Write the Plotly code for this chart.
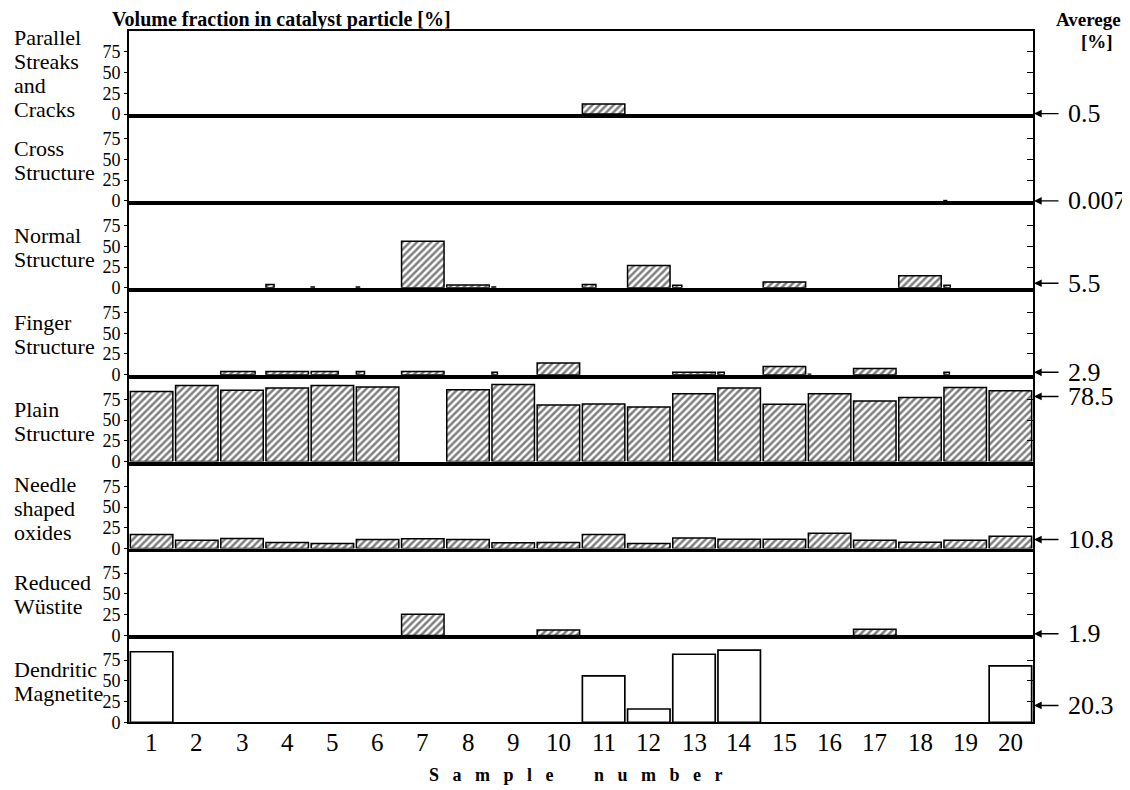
import plotly.graph_objects as go

samples = list(range(1, 21))
sample_tick_labels = [str(s) for s in samples]

panel_labels = [
    "Parallel<br>Streaks<br>and<br>Cracks",
    "Cross<br>Structure",
    "Normal<br>Structure",
    "Finger<br>Structure",
    "Plain<br>Structure",
    "Needle<br>shaped<br>oxides",
    "Reduced<br>Wüstite",
    "Dendritic<br>Magnetite",
]

parallel = [0, 0, 0, 0, 0, 0, 0, 0, 0, 0, 12, 0, 0, 0, 0, 0, 0, 0, 0, 0]
cross = [0, 0, 0, 0, 0, 0, 0, 0, 0, 0, 0, 0, 0, 0, 0, 0, 0, 0, 0.4, 0]
normal = [0, 0, 0, 4, 1, 1, 56, 3.5, 1, 0, 4, 27, 3, 0, 7, 0, 0, 14.5, 3, 0]
finger = [0, 0, 4, 4, 4, 4, 4, 0, 3, 14, 0, 0, 3, 3, 10, 0.5, 7.5, 0, 3, 0]
plain = [84.5, 91.8, 86.1, 88.6, 91.8, 89.8, 0, 86.5, 93, 68.2,
         69.4, 65.7, 81.6, 88.6, 69, 81.6, 73, 77.1, 89.4, 85.3]
needle = [16.8, 10, 12, 7.2, 6, 10.8, 11.6, 10.8, 6.8, 7.2,
          16.8, 6, 12.8, 11.2, 11.2, 18.4, 10, 7.6, 10, 14.8]
wustite = [0, 0, 0, 0, 0, 0, 25.5, 0, 0, 6.5, 0, 0, 0, 0, 0, 0, 7.5, 0, 0, 0]
dendritic = [85, 0, 0, 0, 0, 0, 0, 0, 0, 0, 56, 16, 82, 87, 0, 0, 0, 0, 0, 68]

series = [parallel, cross, normal, finger, plain, needle, wustite, dendritic]
averages = [0.5, 0.007, 5.5, 2.9, 78.5, 10.8, 1.9, 20.3]
average_labels = ["0.5", "0.007", "5.5", "2.9", "78.5", "10.8", "1.9", "20.3"]
ytick_values = [0, 25, 50, 75]

# ---- style: bar widths (fraction of slot), left aligned in slot ----
FULL = 0.94
def widths_with(overrides):
    w = [FULL] * 20
    for k, v in overrides.items():
        w[k - 1] = v
    return w

bar_widths = [
    widths_with({}),
    widths_with({19: 0.06}),
    widths_with({4: 0.18, 5: 0.07, 6: 0.07, 9: 0.08, 11: 0.3, 13: 0.2, 19: 0.14}),
    widths_with({3: 0.76, 5: 0.6, 6: 0.18, 9: 0.12, 14: 0.14, 16: 0.05, 19: 0.12}),
    widths_with({}),
    widths_with({}),
    widths_with({}),
    widths_with({}),
]
hatched = [True, True, True, True, True, True, True, False]

# page body has an 8px default margin: target window pixels -> figure pixels
OFF = 8
W, H = 1130, 790
TL, TR, TT, TB = 129, 1033, 31, 723          # target plot box in window pixels
L, R, T, B = TL - OFF, TR - OFF, TT - OFF, TB - OFF
plot_h = B - T
plot_w = R - L
pitch = 86.9
panel_h = 83.0
LABEL_LINE = 24.0

SERIF = "Liberation Serif, DejaVu Serif, serif"

def py(win_y):
    return (B - (win_y - OFF)) / plot_h

def px(win_x):
    return ((win_x - OFF) - L) / plot_w

fig = go.Figure()
layout = {}
annotations = []

for i in range(8):
    n = i + 1
    top_w = TT + i * pitch
    bot_w = min(top_w + panel_h, TB)
    dom = [max(0, py(bot_w)), min(1, py(top_w))]

    if hatched[i]:
        marker = dict(
            color="white",
            line=dict(color="black", width=1.5),
            pattern=dict(shape="/", fgcolor="black", bgcolor="white",
                         size=5, solidity=0.5, fillmode="overlay"),
        )
    else:
        marker = dict(color="white", line=dict(color="black", width=1.7))

    yvals = [v if v > 0 else None for v in series[i]]
    fig.add_trace(go.Bar(
        x=samples, y=yvals, width=bar_widths[i], offset=-0.47,
        marker=marker, xaxis=f"x{n}", yaxis=f"y{n}",
        showlegend=False, hoverinfo="x+y",
    ))
    # invisible trace for the right-side (inside ticks) axis
    fig.add_trace(go.Scatter(
        x=samples, y=series[i], mode="none", xaxis=f"x{n}", yaxis=f"y{n + 8}",
        showlegend=False, hoverinfo="skip",
    ))

    layout[f"xaxis{n}"] = dict(
        domain=[0, 1], anchor=f"y{n}", range=[0.5, 20.5],
        showline=True, mirror=True, linecolor="black", linewidth=2,
        ticks="", showgrid=False, zeroline=False,
        tickvals=samples, showticklabels=False,
    )
    layout[f"yaxis{n}"] = dict(
        domain=dom, anchor=f"x{n}", range=[0, 100],
        showline=True, mirror=True, linecolor="black", linewidth=2,
        ticks="outside", ticklen=3, tickwidth=1.2, tickcolor="black",
        tickvals=ytick_values, showgrid=False, zeroline=False,
        tickfont=dict(family=SERIF, size=18, color="black"),
    )
    layout[f"yaxis{n + 8}"] = dict(
        domain=dom, anchor=f"x{n}", overlaying=f"y{n}", side="right",
        range=[0, 100], showline=False, ticks="inside", ticklen=6,
        tickwidth=1.2, tickcolor="black", tickvals=[25, 50, 75],
        showticklabels=False, showgrid=False, zeroline=False,
    )

    # panel label on the left, one annotation per line (tighter leading)
    lines = panel_labels[i].split("<br>")
    centre_w = (top_w + bot_w) / 2 + 1
    for k, line in enumerate(lines):
        line_y = centre_w + (k - (len(lines) - 1) / 2) * LABEL_LINE
        annotations.append(dict(
            xref="paper", yref="paper", x=px(12), y=py(line_y),
            xanchor="left", yanchor="middle", text=line, showarrow=False,
            font=dict(family=SERIF, size=22, color="black"),
        ))
    # average arrow
    annotations.append(dict(
        xref="paper", yref=f"y{n}", x=1, y=averages[i], xshift=1,
        text="", showarrow=True, ax=26, ay=0, arrowhead=2,
        arrowsize=1.1, arrowwidth=1.4, arrowcolor="black",
    ))
    annotations.append(dict(
        xref="paper", yref=f"y{n}", x=1, y=averages[i], xshift=33,
        xanchor="left", yanchor="middle", text=average_labels[i],
        showarrow=False, font=dict(family=SERIF, size=26, color="black"),
    ))

# sample-number tick labels under the bottom panel (placed on the x8 scale)
for s, lab in zip(samples, sample_tick_labels):
    annotations.append(dict(
        xref="x8", yref="paper", x=s, y=py(742),
        xanchor="center", yanchor="middle", text=lab, showarrow=False,
        font=dict(family=SERIF, size=25, color="black"),
    ))

annotations.append(dict(
    xref="paper", yref="paper", x=px(110), y=py(19),
    xanchor="left", yanchor="middle",
    text="<b>Volume fraction in catalyst particle [%]</b>", showarrow=False,
    font=dict(family=SERIF, size=20, color="black"),
))
annotations.append(dict(
    xref="paper", yref="paper", x=px(1088), y=py(19),
    xanchor="center", yanchor="middle",
    text="<b>Averege</b>", showarrow=False,
    font=dict(family=SERIF, size=19, color="black"),
))
annotations.append(dict(
    xref="paper", yref="paper", x=px(1097), y=py(42),
    xanchor="center", yanchor="middle",
    text="<b>[%]</b>", showarrow=False,
    font=dict(family=SERIF, size=19, color="black"),
))
sp = "&nbsp;" * 3
annotations.append(dict(
    xref="paper", yref="paper", x=px(576), y=py(775),
    xanchor="center", yanchor="middle",
    text="<b>" + sp.join("Sample") + "&nbsp;" * 9 + sp.join("number") + "</b>",
    showarrow=False, font=dict(family=SERIF, size=18, color="black"),
))

fig.update_layout(
    width=W, height=H,
    margin=dict(l=L, r=W - R, t=T, b=H - B, pad=0),
    paper_bgcolor="white", plot_bgcolor="white",
    bargap=0.06, annotations=annotations, showlegend=False,
    font=dict(family=SERIF, color="black"),
    **layout,
)

fig.write_html("out.html")
